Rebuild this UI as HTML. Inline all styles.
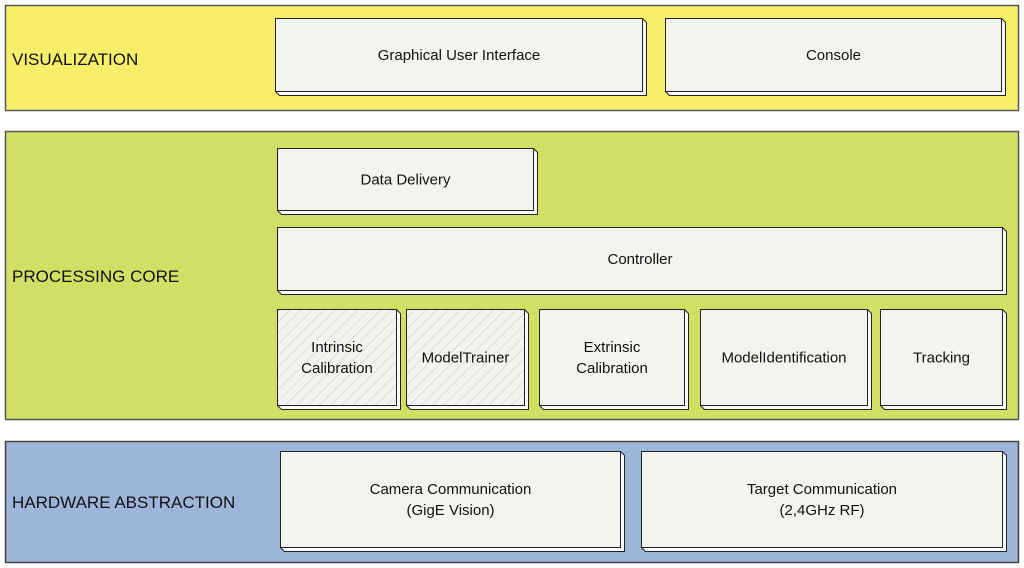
<!DOCTYPE html>
<html><head><meta charset="utf-8"><style>
html,body{margin:0;padding:0;background:#fff;width:1024px;height:568px;overflow:hidden}
svg text{font-family:"Liberation Sans",sans-serif;fill:#111}
</style></head><body>
<svg width="1024" height="568" viewBox="0 0 1024 568" xmlns="http://www.w3.org/2000/svg">
<defs>
<pattern id="h" width="8" height="8" patternUnits="userSpaceOnUse" patternTransform="rotate(45)">
<rect width="8" height="8" fill="#f3f4ef"/><line x1="0" y1="0" x2="0" y2="8" stroke="#c9c9c9" stroke-width="1"/>
</pattern>
</defs>
<rect x="5.5" y="5.5" width="1013" height="105" fill="#f7ef6c" stroke="#555" stroke-width="1.5"/>
<rect x="5.5" y="131.5" width="1013" height="288" fill="#d1e064" stroke="#555" stroke-width="1.5"/>
<rect x="5.5" y="441.5" width="1013" height="121" fill="#9db5d9" stroke="#444" stroke-width="1.5"/>
<text x="12" y="65" font-size="17">VISUALIZATION</text>
<text x="12" y="282" font-size="17">PROCESSING CORE</text>
<text x="12" y="508" font-size="17">HARDWARE ABSTRACTION</text>
<g id="boxes" stroke="#222" stroke-width="1" font-size="15">
</g>
</svg>
<script>
const B=[
[275,18,646,95,["Graphical User Interface"]],
[665,18,1005,95,["Console"]],
[277,148,537,214,["Data Delivery"]],
[277,227,1006,294,["Controller"]],
[277,309,400,409,["Intrinsic","Calibration"],1],
[406,309,528,409,["ModelTrainer"],1],
[539,309,688,409,["Extrinsic","Calibration"]],
[700,309,871,409,["ModelIdentification"]],
[880,309,1006,409,["Tracking"]],
[280,451,624,551,["Camera Communication","(GigE Vision)"]],
[641,451,1006,551,["Target Communication","(2,4GHz RF)"]]];
const g=document.getElementById('boxes');let s='';const d=4;
for(const [x1,y1,x2,y2,t,h] of B){
 const fx=x1+.5,fy=y1+.5,fw=x2-x1-d,fh=y2-y1-d;
 s+=`<polygon points="${fx+fw},${fy} ${fx+fw+d},${fy+d} ${fx+fw+d},${fy+fh+d} ${fx+d},${fy+fh+d} ${fx},${fy+fh}" fill="#fafafa"/>`;
 s+=`<rect x="${fx}" y="${fy}" width="${fw}" height="${fh}" fill="${h?'url(#h)':'#f3f4ef'}"/>`;
 const cx=fx+fw/2,cy=fy+fh/2;
 t.forEach((l,i)=>{const yy=cy+5+(i-(t.length-1)/2)*21;s+=`<text x="${cx}" y="${yy}" text-anchor="middle" stroke="none">${l}</text>`;});
}
g.innerHTML=s;
</script>
</body></html>
